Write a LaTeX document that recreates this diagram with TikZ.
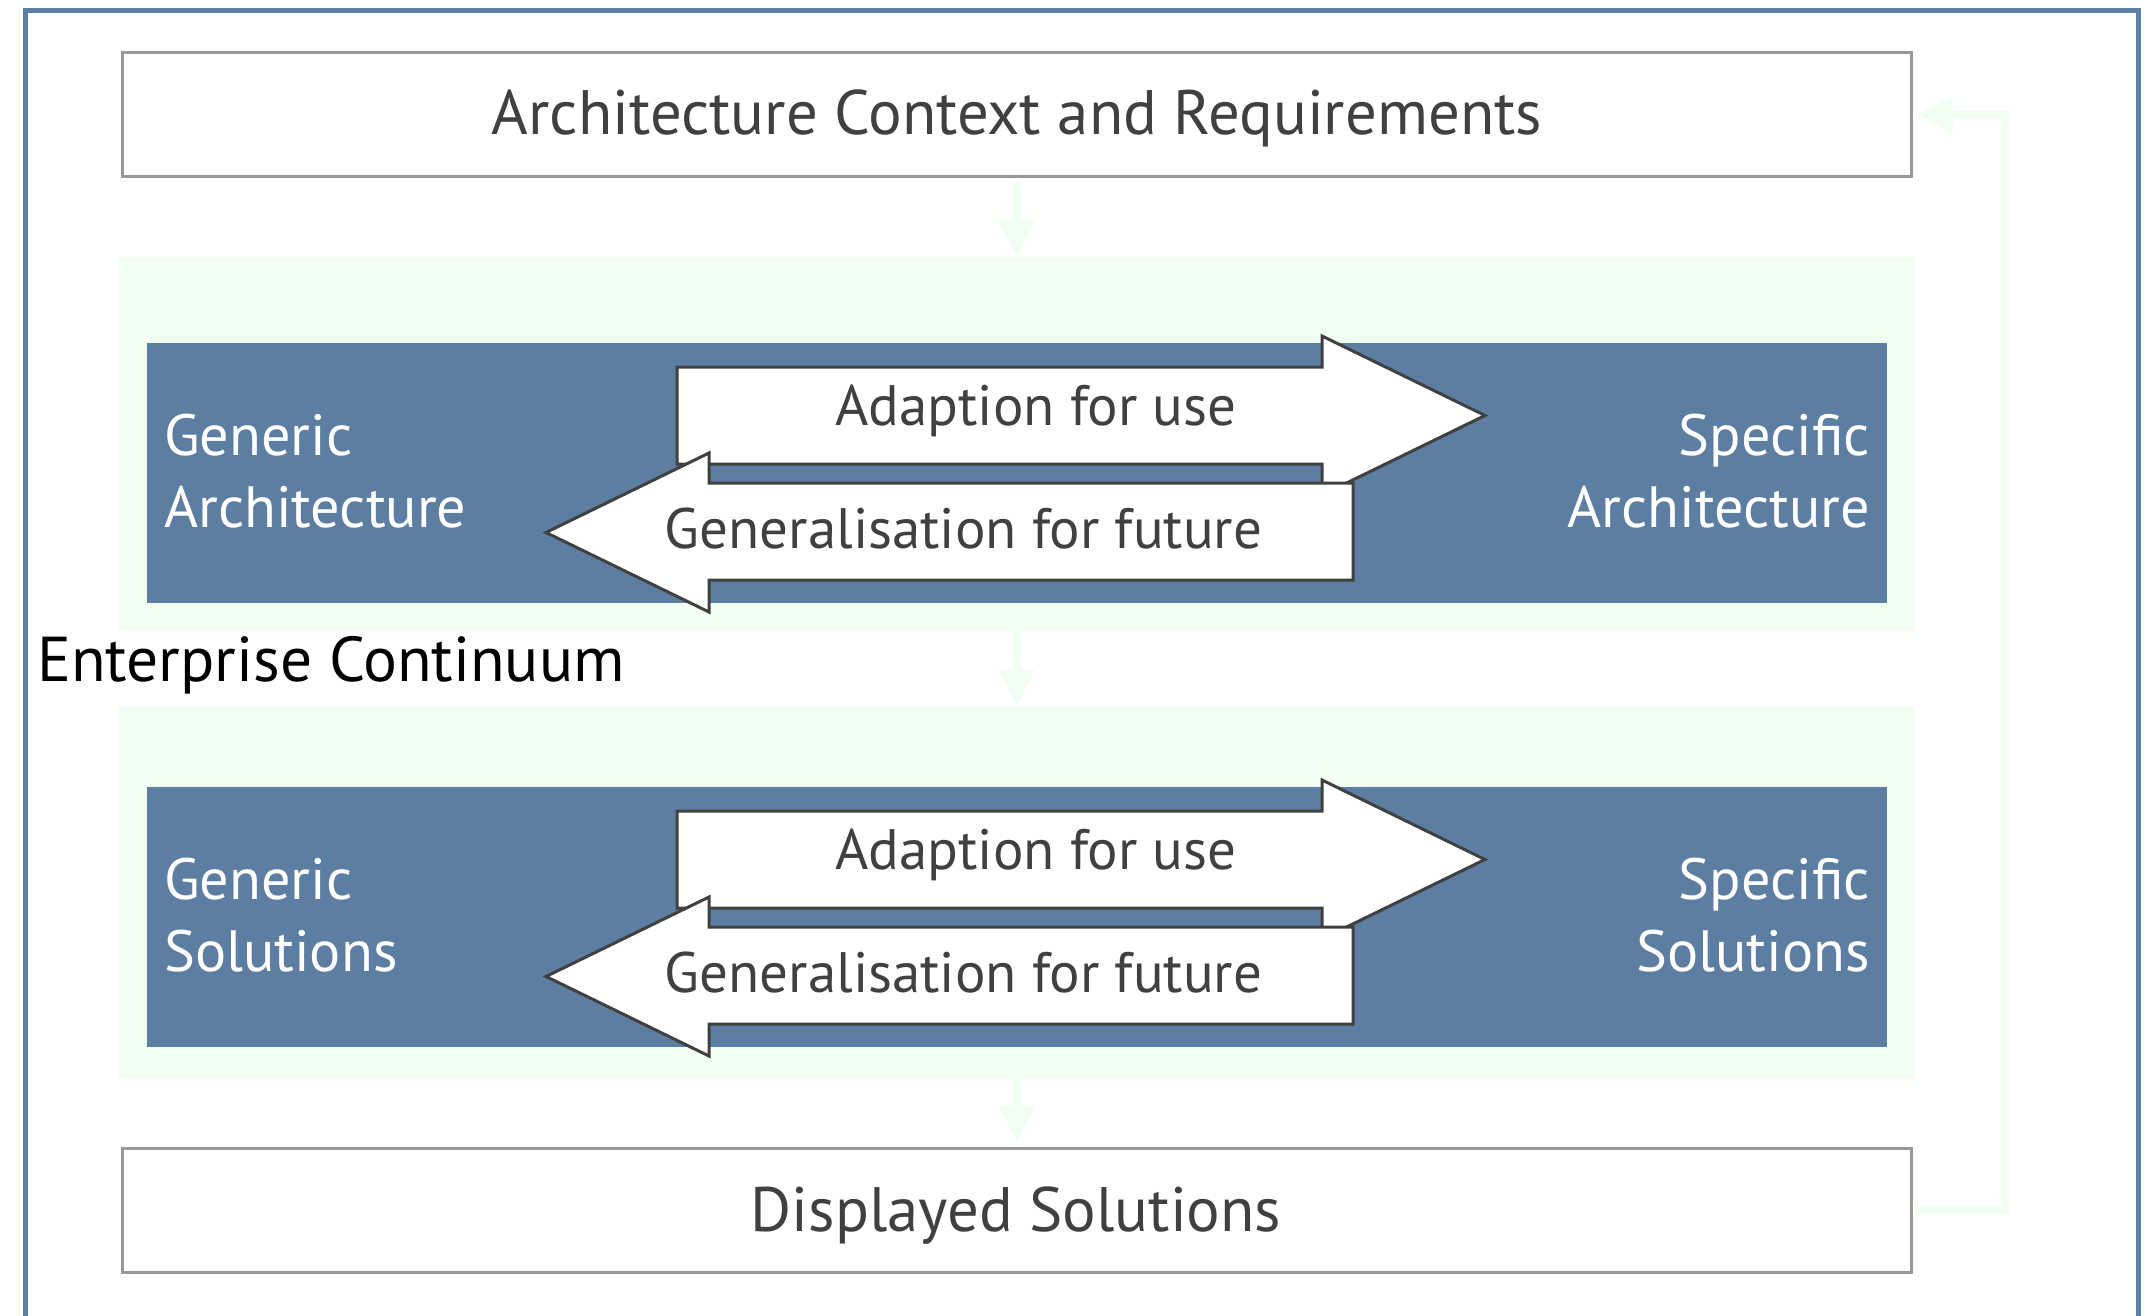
\documentclass[tikz,border=0pt]{standalone}
\usepackage{fontspec}
\setmainfont{PT Sans}
\usetikzlibrary{arrows.meta}
\definecolor{frameblue}{HTML}{5E7FA6}
\definecolor{panelblue}{HTML}{5D7EA3}
\definecolor{palegreen}{HTML}{F0FFF2}
\definecolor{boxgray}{HTML}{999999}
\definecolor{txtgray}{HTML}{404040}
\begin{document}
\begin{tikzpicture}[x=1pt,y=-1pt,
  plainbox/.style={draw=boxgray, line width=3pt, fill=white, inner sep=0pt, minimum width=1789pt, minimum height=124pt},
  greenpanel/.style={fill=palegreen, inner sep=0pt, minimum width=1796pt, minimum height=374pt},
  bluepanel/.style={fill=panelblue, inner sep=0pt, minimum width=1740pt, minimum height=260pt},
  blockarrow/.style={draw=txtgray, line width=3pt, fill=white, line join=miter},
  flow/.style={draw=palegreen, line width=8pt, -{Triangle[length=36pt,width=34pt]}},
  lbl/.style={font=\fontsize{57}{68}\selectfont, text=txtgray, inner sep=0pt},
  titlelbl/.style={font=\fontsize{62.8}{76}\selectfont, text=txtgray, inner sep=0pt},
  plbl/.style={font=\fontsize{58.2}{70}\selectfont, text=white, inner sep=0pt},
  eclbl/.style={font=\fontsize{63.4}{76}\selectfont, text=black, inner sep=0pt},
]
\useasboundingbox (0,0) rectangle (2156,1316);
\fill[white] (0,0) rectangle (2156,1316);
% outer frame
\draw[frameblue, line width=5pt] (25.5,1316) -- (25.5,10.5) -- (2138.5,10.5) -- (2138.5,1316);

% boxes and panels
\node[plainbox] (top) at (1016.5,114.75) {};
\node[plainbox] (bot) at (1017,1210) {};
\node[greenpanel] (g1) at (1017,444) {};
\node[greenpanel, minimum height=373pt] (g2) at (1017,892.5) {};
\node[bluepanel] (b1) at (1017,473) {};
\node[bluepanel] (b2) at (1017,917) {};

% texts in boxes
\node[titlelbl, anchor=base] (toptxt) at (1017,135) {Architecture Context and Requirements};
\node[titlelbl, anchor=base] (bottxt) at (1016,1231) {Displayed Solutions};

% block arrows, panel 1
\draw[blockarrow] (677,367) -- (1322,367) -- (1322,336) -- (1485,415.5) -- (1322,495) -- (1322,464) -- (677,464) -- cycle;
\draw[blockarrow] (1353,483) -- (709,483) -- (709,453) -- (546,532.5) -- (709,612) -- (709,580) -- (1353,580) -- cycle;
\node[lbl, anchor=base] (ad1) at (1036,425) {Adaption for use};
\node[lbl, anchor=base] (ge1) at (963.5,548) {Generalisation for future};

% block arrows, panel 2
\draw[blockarrow] (677,811) -- (1322,811) -- (1322,780) -- (1485,859.5) -- (1322,939) -- (1322,908) -- (677,908) -- cycle;
\draw[blockarrow] (1353,927) -- (709,927) -- (709,897) -- (546,976.5) -- (709,1056) -- (709,1024) -- (1353,1024) -- cycle;
\node[lbl, anchor=base] (ad2) at (1036,869) {Adaption for use};
\node[lbl, anchor=base] (ge2) at (963.5,992) {Generalisation for future};

% panel labels
\node[plbl, anchor=base west] (ga1) at (164,455) {Generic};
\node[plbl, anchor=base west] (ga2) at (164,527) {Architecture};
\node[plbl, anchor=base east] (sa1) at (1870,455) {Specific};
\node[plbl, anchor=base east] (sa2) at (1870,527) {Architecture};
\node[plbl, anchor=base west] (gs1) at (164,899) {Generic};
\node[plbl, anchor=base west] (gs2) at (164,971) {Solutions};
\node[plbl, anchor=base east] (ss1) at (1870,899) {Specific};
\node[plbl, anchor=base east] (ss2) at (1870,971) {Solutions};

\node[eclbl, anchor=base west] (ec) at (37,681) {Enterprise Continuum};

% flow connectors
\coordinate (fbx) at (2005,0);
\draw[flow, shorten <=4pt] (top.south) -- (g1.north);
\draw[flow] (g1.south) -- (g2.north);
\draw[flow, shorten >=5pt] (g2.south) -- (bot.north);
\draw[flow, shorten <=3pt, shorten >=4pt] (bot.east) -- (bot.east -| fbx) |- (top.east);
\end{tikzpicture}
\end{document}
